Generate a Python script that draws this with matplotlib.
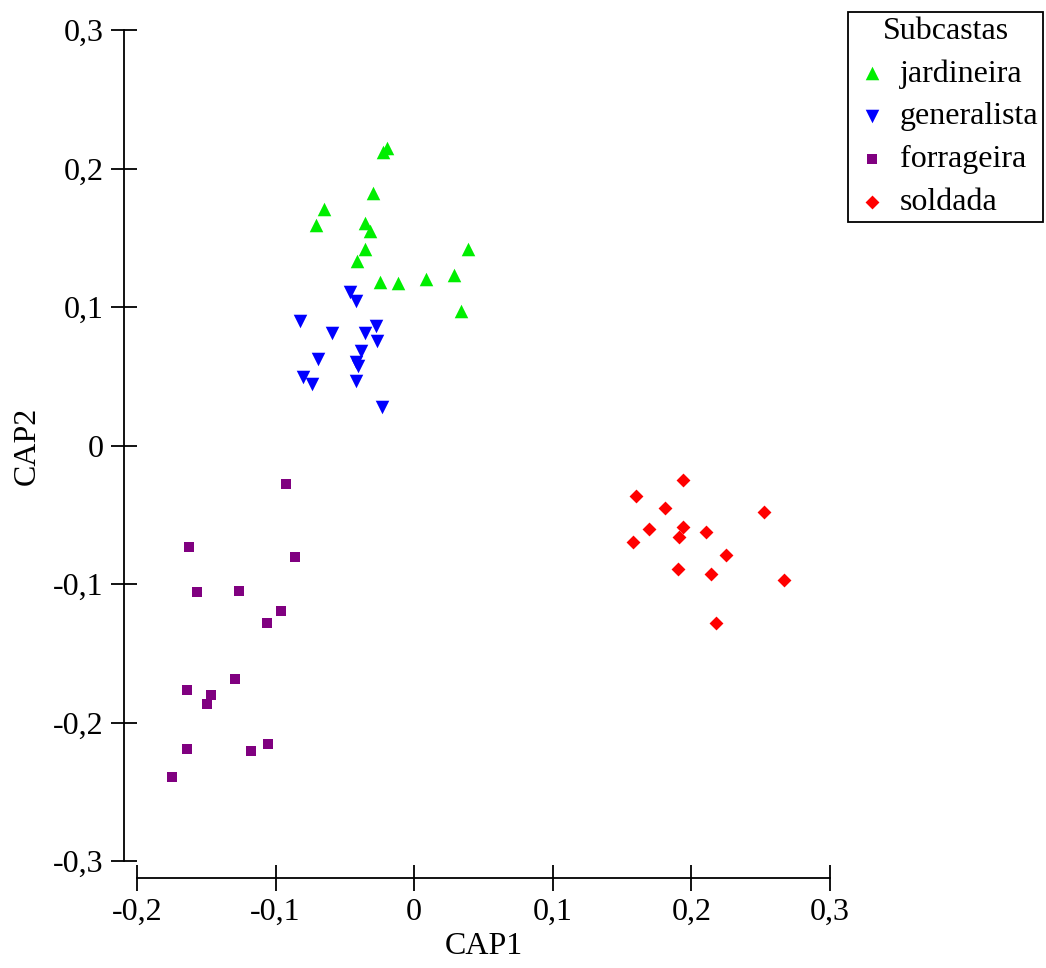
import numpy as np
import matplotlib.pyplot as plt
from matplotlib.ticker import FuncFormatter

plt.rcParams['font.family'] = ['Liberation Serif', 'DejaVu Serif']

# CAP scores
jard_x = [-0.0195, -0.0223, -0.0295, -0.0648, -0.0706, -0.0353, -0.0317, -0.0353,
          -0.0411, 0.0389, -0.0245, -0.0115, 0.0086, 0.0288, 0.0339]
jard_y = [0.215, 0.212, 0.182, 0.171, 0.159, 0.161, 0.155, 0.142,
          0.133, 0.142, 0.118, 0.117, 0.120, 0.123, 0.097]

gen_x = [-0.0461, -0.0418, -0.0821, -0.0591, -0.0353, -0.0274, -0.0267, -0.0382,
         -0.0692, -0.0418, -0.0403, -0.0800, -0.0735, -0.0418, -0.0231]
gen_y = [0.111, 0.104, 0.090, 0.081, 0.0815, 0.086, 0.0758, 0.0685,
         0.0628, 0.0606, 0.0577, 0.0498, 0.0447, 0.0469, 0.0281]

forr_x = [-0.0927, -0.1626, -0.0863, -0.1568, -0.1266, -0.0963, -0.1064, -0.1295,
          -0.1641, -0.1468, -0.1496, -0.1057, -0.1641, -0.1179, -0.1749]
forr_y = [-0.0276, -0.0731, -0.0803, -0.1056, -0.1049, -0.1193, -0.1279, -0.1683,
          -0.1763, -0.1799, -0.1864, -0.2152, -0.2188, -0.2203, -0.2390]

sold_x = [0.194, 0.1597, 0.1808, 0.2522, 0.1693, 0.1936, 0.2102, 0.1909,
          0.1580, 0.2253, 0.1900, 0.2143, 0.2668, 0.2175]
sold_y = [-0.0247, -0.0363, -0.0452, -0.0481, -0.0604, -0.0590, -0.0623, -0.0664,
          -0.0693, -0.0792, -0.0893, -0.0924, -0.0972, -0.1284]

xticks = [-0.2, -0.1, 0, 0.1, 0.2, 0.3]
yticks = [-0.3, -0.2, -0.1, 0, 0.1, 0.2, 0.3]


def comma(v, pos):
    if abs(v) < 1e-9:
        return "0"
    return ("%.1f" % v).replace(".", ",")


fig = plt.figure(figsize=(10.46, 9.68), dpi=100)
ax = fig.add_axes([0.131, 0.1105, 0.6625, 0.8585])

ax.scatter(jard_x, jard_y, marker="^", s=95, color="#00ee00", linewidths=0, label="jardineira")
ax.scatter(gen_x, gen_y, marker="v", s=95, color="#0000ff", linewidths=0, label="generalista")
ax.scatter(forr_x, forr_y, marker="s", s=60, color="#800080", linewidths=0, label="forrageira")
ax.scatter(sold_x, sold_y, marker="D", s=50, color="#ff0000", linewidths=0, label="soldada")

ax.set_xlim(-0.2, 0.3)
ax.set_ylim(-0.3, 0.3)
ax.set_xticks(xticks)
ax.set_yticks(yticks)
ax.xaxis.set_major_formatter(FuncFormatter(comma))
ax.yaxis.set_major_formatter(FuncFormatter(comma))

for side in ["top", "right"]:
    ax.spines[side].set_visible(False)
ax.spines["bottom"].set_position(("outward", 12))
ax.spines["left"].set_position(("outward", 9.5))
for side in ["bottom", "left"]:
    ax.spines[side].set_linewidth(1.3)
ax.tick_params(direction="inout", length=19, width=1.3, labelsize=23, pad=5)

ax.set_xlabel("CAP1", fontsize=23, labelpad=4)
ax.set_ylabel("CAP2", fontsize=23, labelpad=8)

leg = fig.legend(loc="upper right", bbox_to_anchor=(1043 / 1046, 1 - 12 / 968),
                 title="Subcastas", fontsize=23, title_fontsize=23,
                 fancybox=False, edgecolor="black", framealpha=1,
                 handletextpad=0.25, handlelength=1.2, borderpad=0.15,
                 labelspacing=0.42, borderaxespad=0)
leg.get_frame().set_linewidth(1.3)

fig.savefig("out.png", dpi=100)
